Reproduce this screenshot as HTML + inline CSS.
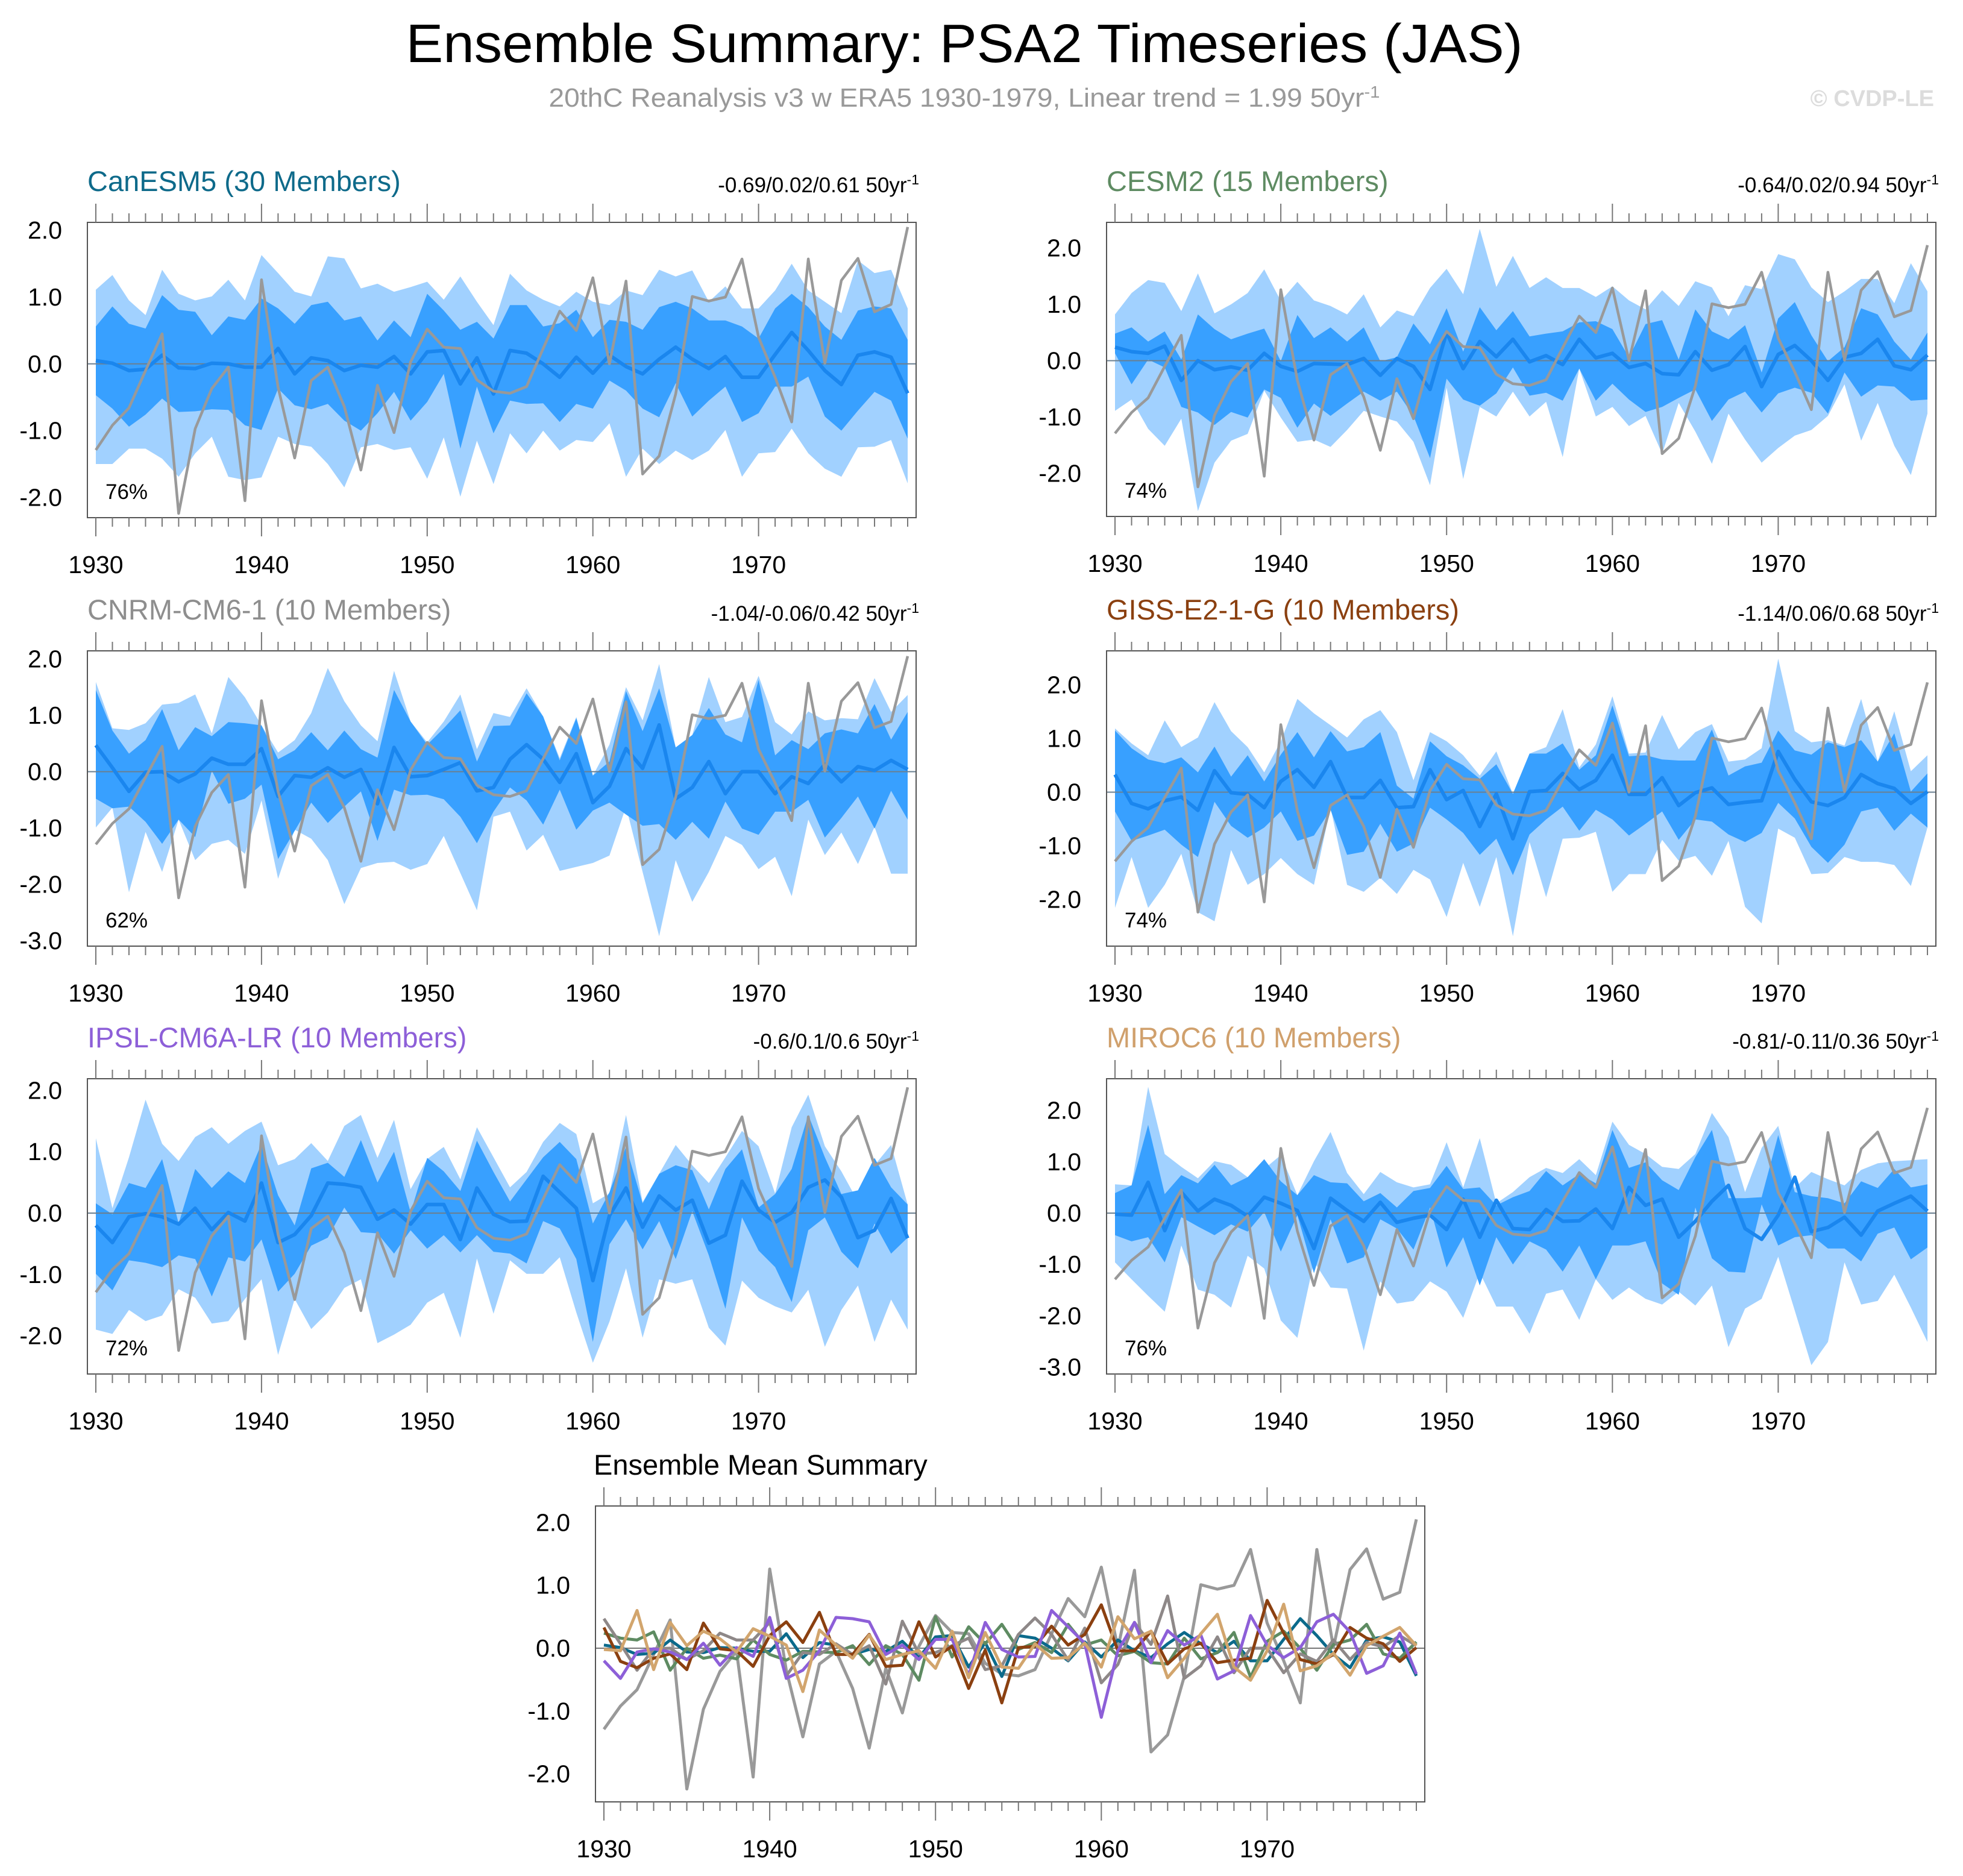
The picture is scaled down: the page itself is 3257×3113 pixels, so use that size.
<!DOCTYPE html>
<html><head><meta charset="utf-8"><style>
html,body{margin:0;padding:0;background:#fff}
svg{display:block;font-family:"Liberation Sans",Arial,sans-serif}
</style></head><body>
<svg id="fig" xmlns="http://www.w3.org/2000/svg" width="3257" height="3113" viewBox="0 0 3257 3113">
<text x="1600" y="103" font-size="90" text-anchor="middle" textLength="1853" lengthAdjust="spacingAndGlyphs" fill="#000">Ensemble Summary: PSA2 Timeseries (JAS)</text>
<text x="1600" y="177" font-size="44" text-anchor="middle" textLength="1379" lengthAdjust="spacingAndGlyphs" fill="#999">20thC Reanalysis v3 w ERA5 1930-1979, Linear trend = 1.99 50yr<tspan dy="-15" font-size="28">-1</tspan></text>
<text x="3209" y="176" font-size="38" font-weight="bold" text-anchor="end" fill="#dcdcdc">© CVDP-LE</text>
<g id="plots"></g>
</svg>
<script>
const years=[];for(let y=1930;y<=1979;y++)years.push(y);
const obs=[-1.29,-0.92,-0.66,-0.1,0.45,-2.24,-0.97,-0.37,-0.05,-2.05,1.26,-0.35,-1.41,-0.25,-0.05,-0.64,-1.59,-0.32,-1.03,0.03,0.52,0.25,0.23,-0.24,-0.41,-0.44,-0.34,0.23,0.79,0.5,1.29,0.0,1.24,-1.65,-1.38,-0.45,1.01,0.94,1.0,1.57,0.4,-0.2,-0.87,1.57,0.01,1.25,1.58,0.78,0.89,2.05];

const canOU=[1.11,1.33,0.95,0.73,1.41,1.05,0.95,1.01,1.26,0.95,1.63,1.36,1.08,1.01,1.61,1.58,1.13,1.2,1.08,1.15,1.23,0.96,1.31,0.93,0.58,1.35,1.1,0.96,0.86,1.08,0.93,0.88,1.1,1.03,1.41,1.31,1.4,0.93,1.16,0.83,0.83,1.1,1.5,1.1,0.93,0.76,1.55,1.36,1.41,0.83];
const canIU=[0.56,0.86,0.6,0.53,1.03,0.81,0.78,0.43,0.71,0.66,0.98,0.83,0.6,0.88,0.93,0.65,0.71,0.35,0.65,0.4,1.05,0.8,0.51,0.63,0.38,0.88,0.88,0.56,0.61,0.81,0.4,0.66,0.63,0.51,0.85,0.93,0.83,0.65,0.65,0.56,0.38,0.83,1.05,0.85,0.56,0.36,0.8,0.86,0.83,0.36];
const canM=[0.05,0.01,-0.1,-0.08,0.13,-0.06,-0.07,0.01,0,-0.05,-0.05,0.23,-0.15,0.09,0.05,-0.1,-0.02,-0.05,0.11,-0.15,0.18,0.2,-0.3,0.09,-0.45,0.2,0.16,0,-0.2,0.1,-0.14,0.13,-0.04,-0.15,0.07,0.25,0.07,-0.07,0.11,-0.2,-0.2,0.14,0.47,0.2,-0.1,-0.31,0.13,0.18,0.1,-0.44];
const canIL=[-0.47,-0.67,-0.94,-0.76,-0.52,-0.72,-0.71,-0.68,-0.69,-0.92,-0.99,-0.37,-0.62,-0.68,-0.6,-0.85,-1.0,-0.74,-0.42,-0.85,-0.57,-0.15,-1.27,-0.34,-1.04,-0.55,-0.6,-0.59,-0.87,-0.6,-0.67,-0.25,-0.4,-0.67,-0.8,-0.29,-0.79,-0.55,-0.34,-0.87,-0.74,-0.34,-0.34,-0.19,-0.79,-1.0,-0.7,-0.42,-0.55,-1.12];
const canOL=[-1.5,-1.5,-1.27,-1.27,-1.42,-1.69,-1.34,-1.09,-1.69,-1.74,-1.7,-1.09,-1.2,-1.24,-1.5,-1.85,-1.25,-1.2,-1.29,-1.25,-1.72,-1.1,-1.99,-1.15,-1.8,-1.04,-1.34,-1.0,-1.3,-1.14,-1.17,-0.89,-1.69,-1.27,-1.5,-1.3,-1.44,-1.3,-0.99,-1.69,-1.34,-1.32,-0.97,-1.34,-1.57,-1.69,-1.25,-1.24,-1.14,-1.79];

const cesOU=[0.82,1.2,1.43,1.38,0.88,1.55,0.84,1.0,1.2,1.62,1.06,1.4,1.07,0.97,0.82,1.18,0.59,0.89,0.79,1.29,1.63,1.18,2.34,1.31,1.86,1.29,1.48,1.29,1.29,1.13,1.32,1.07,0.91,1.25,0.97,1.41,1.3,0.79,1.34,1.27,1.89,1.8,1.3,1.04,1.23,1.45,1.45,1.02,1.73,1.23];
const cesIU=[0.48,0.59,0.34,0.52,0.02,0.82,0.56,0.38,0.48,0.57,-0.01,0.81,0.4,0.59,0.34,0.59,-0.01,0.06,0.66,0.29,0.93,0.16,0.95,0.54,0.88,0.43,0.48,0.52,0.68,0.7,0.56,0.06,0.65,0.72,0.02,0.91,0.52,0.38,0.63,-0.21,0.75,1.04,0.45,-0.01,0.24,0.93,0.82,0.34,0.02,0.5];
const cesM=[0.24,0.16,0.13,0.26,-0.35,0,-0.16,-0.11,-0.17,0.13,-0.1,-0.19,-0.05,-0.06,-0.07,0.04,-0.26,0.04,-0.1,-0.51,0.5,-0.14,0.34,0.07,0.38,-0.02,0.09,-0.07,0.38,0.05,0.13,-0.12,-0.05,-0.23,-0.25,0.16,-0.17,-0.07,0.25,-0.46,0.11,0.27,0.0,-0.35,0.06,0.13,0.38,-0.09,-0.16,0.1];
const cesIL=[0.13,-0.42,0.02,-0.12,-0.82,-0.92,-1.14,-0.91,-1.01,-0.51,-0.66,-1.19,-0.76,-0.98,-0.76,-0.55,-0.71,-0.55,-0.98,-1.73,-0.32,-0.69,-0.8,-0.58,-0.12,-0.62,-0.57,-0.71,-0.14,-0.71,-0.41,-0.69,-0.91,-0.82,-0.66,-0.51,-1.07,-0.69,-0.55,-0.92,-0.58,-0.48,-0.57,-0.94,-0.21,-0.64,-0.44,-0.46,-0.71,-0.69];
const cesOL=[-0.89,-0.69,-1.21,-1.51,-1.03,-2.67,-1.81,-1.42,-1.3,-0.53,-1.01,-1.44,-1.4,-1.53,-1.23,-0.89,-0.99,-1.08,-1.44,-2.21,-0.48,-2.1,-0.82,-0.99,-0.55,-0.99,-0.73,-1.71,-0.14,-0.99,-0.82,-1.16,-0.98,-1.65,-0.75,-1.26,-1.83,-0.94,-1.4,-1.81,-1.55,-1.33,-1.23,-0.98,-0.42,-1.42,-0.75,-1.51,-2.03,-0.94];

const cnrOU=[1.59,0.77,0.74,0.86,1.19,1.22,1.37,0.68,1.68,1.32,0.82,0.34,0.56,1.04,1.84,1.25,0.82,0.54,1.79,0.89,0.52,0.89,1.37,0.4,1.04,0.97,1.48,0.98,0.24,0.97,-0.07,0.48,1.5,0.91,1.91,0.43,0.65,1.68,0.88,0.97,1.7,0.88,0.66,1.07,0.91,0.95,0.93,1.66,1.06,1.36];
const cnrIU=[1.45,0.73,0.32,0.56,1.11,0.38,0.79,0.63,0.88,0.86,0.82,0.22,0.38,0.7,0.38,0.73,0.4,0.25,1.45,0.89,0.48,0.77,1.09,0.18,0.81,0.82,1.39,0.98,0.2,0.95,-0.07,0.18,1.43,0.72,1.48,0.43,0.65,1.13,0.66,0.52,1.63,0.29,0.56,0.4,0.68,0.75,0.68,1.2,0.57,1.06];
const cnrM=[0.47,0.07,-0.35,-0.01,0.0,-0.18,-0.04,0.24,0.13,0.13,0.41,-0.44,-0.07,-0.1,0.07,-0.1,0.04,-0.57,0.43,-0.09,-0.07,0.04,0.16,-0.34,-0.28,0.22,0.48,0.22,-0.19,0.32,-0.55,-0.26,0.41,0.06,0.83,-0.48,-0.28,0.18,-0.39,0.0,0.0,-0.39,-0.09,-0.21,0.13,-0.18,0.09,0.02,0.2,0.04];
const cnrIL=[-0.48,-0.65,-0.62,-0.89,-1.28,-0.85,-1.16,0.02,-0.57,-0.48,-0.23,-1.55,-1.05,-0.55,-0.91,-0.62,-0.35,-1.23,-0.32,-0.42,-0.41,-0.49,-0.8,-1.27,-0.71,-0.28,-0.51,-0.94,-0.32,-1.03,-0.69,-0.55,-0.76,-0.96,-0.93,-1.21,-0.89,-1.19,-0.53,-1.01,-1.12,-0.71,-0.71,-0.5,-1.17,-0.82,-0.44,-1.01,-0.34,-0.85];
const cnrOL=[-0.99,-0.64,-2.14,-1.07,-1.78,-0.85,-1.57,-1.28,-1.21,-1.46,-0.51,-1.9,-1.03,-1.19,-1.57,-2.35,-1.71,-1.62,-1.6,-1.74,-1.64,-1.14,-1.8,-2.46,-0.8,-0.71,-1.4,-1.12,-1.76,-1.69,-1.62,-1.49,-0.62,-1.78,-2.92,-1.57,-2.31,-1.78,-1.14,-1.3,-1.73,-1.51,-2.21,-0.85,-1.48,-1.08,-1.64,-0.98,-1.81,-1.81];

const gisOU=[1.19,0.91,0.69,1.34,0.84,1.02,1.68,1.14,0.84,0.37,0.95,1.74,1.47,1.25,1.02,1.36,1.53,1.12,0.22,1.12,0.95,0.69,0.31,0.76,-0.03,0.72,0.84,1.55,0.46,0.89,1.79,0.72,0.74,1.44,0.8,1.12,1.27,0.57,0.61,0.82,2.49,1.14,0.93,0.97,0.87,1.74,0.57,1.51,0.39,0.69];
const gisIU=[1.15,0.82,0.61,0.54,0.65,0.37,0.85,0.29,0.69,0.2,0.7,1.12,0.65,1.14,0.76,0.84,1.12,0.12,-0.12,0.95,0.67,0.5,0.25,0.52,-0.03,0.72,0.72,0.91,0.42,0.69,1.62,0.67,0.69,0.61,0.59,0.59,1.17,0.31,0.48,0.55,1.15,0.78,0.7,0.93,0.84,0.97,0.57,1.1,0.01,0.35];
const gisM=[0.33,-0.21,-0.31,-0.16,-0.09,-0.34,0.4,-0.01,-0.04,-0.29,0.2,0.42,0.09,0.57,-0.1,-0.1,0.22,-0.29,-0.27,0.42,-0.14,0.03,-0.64,-0.03,-0.87,0.01,0.03,0.35,0.05,0.22,0.69,-0.04,-0.04,0.27,-0.25,-0.01,0.08,-0.23,-0.19,-0.16,0.76,0.24,-0.18,-0.25,-0.1,0.33,0.16,0.07,-0.21,0.01];
const gisIL=[-0.36,-0.91,-0.81,-0.7,-0.98,-1.21,-0.18,-0.63,-0.85,-0.66,-0.36,-0.91,-0.81,-0.33,-1.17,-1.11,-0.59,-1.11,-0.96,-0.29,-0.51,-0.76,-1.17,-0.87,-1.55,-0.79,-0.51,-0.27,-0.72,-0.33,-0.51,-0.81,-0.59,-0.36,-0.89,-0.51,-0.55,-0.79,-0.93,-0.76,-0.2,-0.49,-1.02,-1.32,-0.98,-0.36,-0.29,-0.72,-0.4,-0.66];
const gisOL=[-2.16,-1.21,-2.16,-1.73,-1.15,-2.24,-2.41,-1.08,-1.73,-1.53,-1.23,-1.53,-1.73,-0.29,-1.73,-1.86,-1.6,-1.9,-1.45,-1.63,-2.33,-1.32,-2.14,-1.21,-2.69,-0.93,-1.96,-0.87,-0.85,-0.74,-1.86,-1.53,-1.53,-0.89,-1.28,-1.19,-1.56,-0.91,-2.14,-2.45,-0.68,-0.85,-1.53,-1.51,-1.21,-1.3,-1.3,-1.36,-1.75,-0.66];

const ipsOU=[1.22,0.08,0.91,1.85,1.13,0.85,1.24,1.4,1.13,1.34,1.49,0.78,0.88,1.14,0.85,1.42,1.6,0.9,1.52,0.39,0.88,1.08,0.55,1.4,0.91,0.42,0.67,1.16,1.47,1.29,0.16,0.32,1.6,0.18,0.64,1.11,0.78,0.49,0.91,1.34,1.09,0.32,1.4,1.93,1.09,0.68,0.19,0.78,1.11,0.14];
const ipsIU=[0.16,-0.02,0.49,0.41,0.88,-0.17,0.72,0.41,0.68,0.49,1.13,0.29,-0.2,0.73,0.82,0.59,1.19,0.5,1.0,0.01,0.9,0.68,0.36,1.18,0.67,0.19,0.55,0.91,1.16,0.88,-0.17,0.34,1.08,0.16,0.64,0.78,0.7,0.06,0.72,1.04,0.09,0.31,0.72,1.6,0.91,0.31,0.37,0.9,0.42,0.14];
const ipsM=[-0.2,-0.48,-0.06,-0.01,-0.06,-0.18,0.08,-0.27,0.01,-0.13,0.49,-0.48,-0.35,-0.04,0.49,0.47,0.42,-0.1,0.05,-0.18,0.14,0.14,-0.43,0.41,-0.02,-0.14,-0.13,0.6,0.34,0.08,-1.1,-0.04,0.41,-0.23,0.28,0.05,0.21,-0.49,-0.36,0.52,0.05,-0.15,0.01,0.42,0.54,0.26,-0.4,-0.28,0.24,-0.41];
const ipsIL=[-0.99,-1.26,-0.77,-0.81,-0.88,-0.69,-0.75,-1.36,-0.72,-0.79,-0.43,-1.28,-0.99,-0.53,-0.4,0.09,-0.31,-0.33,-0.66,-0.28,-0.58,-0.36,-0.64,-0.36,-0.63,-0.66,-0.82,-0.13,-0.25,-0.75,-2.1,-0.51,-0.1,-0.59,-0.13,-0.75,0.03,-0.69,-1.56,-0.07,-0.61,-0.88,-1.45,-0.28,-0.07,-0.63,-0.9,-0.17,-0.66,-0.4];
const ipsOL=[-1.9,-1.97,-1.58,-1.76,-1.67,-1.24,-1.38,-1.8,-1.76,-1.4,-1.08,-2.31,-1.4,-1.89,-1.62,-1.22,-1.08,-2.12,-1.98,-1.82,-1.46,-1.3,-2.03,-0.74,-1.64,-0.77,-0.99,-0.99,-0.72,-1.62,-2.44,-1.77,-0.9,-2.03,-1.08,-1.15,-1.08,-1.87,-2.16,-1.1,-1.38,-1.52,-1.62,-1.25,-2.18,-1.58,-1.18,-2.1,-1.41,-1.9];

const mirOU=[0.56,0.54,2.46,1.15,0.9,0.68,1.01,0.94,0.7,0.86,1.13,0.35,1.01,1.58,0.78,0.37,0.8,0.6,0.5,0.56,1.38,0.5,1.46,0.19,0.41,0.7,0.88,0.78,1.05,0.74,1.78,1.33,1.15,0.9,0.86,1.15,1.95,1.48,0.41,1.27,1.7,0.49,0.8,0.66,0.54,0.84,0.97,1.01,1.03,1.05];
const mirIU=[0.39,0.54,1.72,0.37,0.74,0.58,0.94,0.54,0.7,1.05,0.62,0.35,0.74,0.6,0.58,0.23,0.39,0.11,0.43,0.49,0.92,0.47,0.5,0.15,0.31,0.43,0.82,0.54,0.76,0.58,1.62,0.88,0.99,0.64,0.45,1.09,1.62,0.29,0.29,0.31,1.52,0.41,0.33,0.29,0.19,0.62,0.49,0.86,0.5,0.56];
const mirM=[-0.02,-0.04,0.6,-0.34,0.41,0.04,0.27,0.15,-0.06,0.31,0.19,0.05,-0.69,0.29,0.05,-0.16,0.21,-0.18,-0.1,-0.04,-0.32,0.27,-0.47,0.25,-0.3,-0.32,0.07,-0.16,-0.15,0.08,-0.3,0.5,0.15,0.27,-0.47,-0.16,0.23,0.54,-0.3,-0.51,-0.04,0.7,-0.36,-0.28,-0.08,-0.43,0.04,0.19,0.33,0.04];
const mirIL=[-0.43,-0.55,-0.47,-0.96,-0.08,-0.26,-0.43,-0.22,-0.36,0.02,-0.75,-0.04,-1.17,-0.12,-0.98,-0.86,-0.12,-0.3,-0.71,0.11,-1.06,-0.47,-1.41,-0.47,-1.0,-0.55,-0.71,-1.14,-0.63,-1.29,-0.63,-0.63,-0.55,-1.37,-1.59,0.11,-0.88,-1.14,-1.16,0.17,-0.63,-0.47,-0.43,-0.69,-0.69,-0.94,-0.4,-0.28,-0.9,-0.67];
const mirOL=[-0.96,-1.29,-1.61,-1.92,-0.63,-1.49,-1.59,-1.84,-0.83,-1.08,-2.09,-2.43,-0.94,-1.45,-1.47,-2.68,-1.33,-1.76,-1.71,-1.33,-1.53,-2.04,-1.16,-1.82,-1.82,-2.35,-1.57,-1.49,-2.08,-1.29,-1.69,-1.45,-1.67,-1.78,-1.53,-1.8,-1.41,-2.61,-1.86,-1.67,-0.85,-1.9,-2.96,-2.51,-0.96,-1.78,-1.71,-1.2,-1.84,-2.51];

const modelNames=["CanESM5 (30 Members)","CESM2 (15 Members)","CNRM-CM6-1 (10 Members)","GISS-E2-1-G (10 Members)","IPSL-CM6A-LR (10 Members)","MIROC6 (10 Members)"];
const trendLabels=["-0.69/0.02/0.61 50yr","-0.64/0.02/0.94 50yr","-1.04/-0.06/0.42 50yr","-1.14/0.06/0.68 50yr","-0.6/0.1/0.6 50yr","-0.81/-0.11/0.36 50yr"];
const pctLabels=["76%","74%","62%","74%","72%","76%"];
const xTicks=[1930,1940,1950,1960,1970];

const NS="http://www.w3.org/2000/svg";
const root=document.getElementById('plots');
function mk(tag,attrs,parent){const e=document.createElementNS(NS,tag);for(const k in attrs)e.setAttribute(k,attrs[k]);(parent||root).appendChild(e);return e;}

const models=[
 {d:[canOU,canIU,canM,canIL,canOL],col:"#0E6A8A",lc:"#0B6A8B",box:[145,369,1520,859],zero:603.8,unit:110.8,tk:[-2,2]},
 {d:[cesOU,cesIU,cesM,cesIL,cesOL],col:"#5E8B62",lc:"#5E8B62",box:[1836,369,3212,857],zero:598.5,unit:93.5,tk:[-2,2]},
 {d:[cnrOU,cnrIU,cnrM,cnrIL,cnrOL],col:"#8E8E8E",lc:"#8E8888",box:[145,1080,1520,1570],zero:1280.5,unit:93.5,tk:[-3,2]},
 {d:[gisOU,gisIU,gisM,gisIL,gisOL],col:"#8B4010",lc:"#8B4010",box:[1836,1080,3212,1570],zero:1314.5,unit:88.9,tk:[-2,2]},
 {d:[ipsOU,ipsIU,ipsM,ipsIL,ipsOL],col:"#8D5FD8",lc:"#8D5FD8",box:[145,1790,1520,2280],zero:2013,unit:101.8,tk:[-2,2]},
 {d:[mirOU,mirIU,mirM,mirIL,mirOL],col:"#D0A06C",lc:"#D2A56D",box:[1836,1790,3212,2280],zero:2013,unit:85.2,tk:[-3,2]}
];

function axes(g,p,label){
 const [x0,y0,x1,y1]=p.box;
 const X=yr=>x0+14+(yr-1930)*(x1-x0-28)/49;
 const Y=v=>p.zero-v*p.unit;
 const clip=mk('clipPath',{id:'c'+label},g);mk('rect',{x:x0,y:y0,width:x1-x0,height:y1-y0},clip);
 return {X,Y,x0,y0,x1,y1};
}
function frame(g,p,A,name){
 const {X,Y,x0,y0,x1,y1}=A;
 const fr=mk('rect',{x:x0,y:y0,width:x1-x0,height:y1-y0,fill:'none',stroke:'#555','stroke-width':2},g);
 
 
 const tg=mk('g',{stroke:'#777','stroke-width':2},g);
 
 
 for(let yr=1930;yr<=1979;yr++){
  const L=yr%10===0?31:15;
  mk('line',{x1:X(yr),x2:X(yr),y1:y1,y2:y1+L},tg);
  mk('line',{x1:X(yr),x2:X(yr),y1:y0,y2:y0-L},tg);
 }
 const lo=Math.ceil((p.zero-y1)/p.unit*-5)/5, hi=Math.floor((p.zero-y0)/p.unit*5)/5;
 for(let k=Math.round(lo*5);k<=Math.round(hi*5);k++){
  const v=k/5;const L=k%5===0?31:15;const yy=Y(v);
  if(yy<y0||yy>y1)continue;
  mk('line',{x1:x0,x2:x0-L,y1:yy,y2:yy},tg);
  mk('line',{x1:x1,x2:x1+L,y1:yy,y2:yy},tg);
 }
 for(let v=p.tk[0];v<=p.tk[1];v++){
  const t=mk('text',{x:x0-42,y:Y(v)+14,'font-size':41,'text-anchor':'end',fill:'#000'},g);
  t.textContent=v.toFixed(1);
  
  
 }
 xTicks.forEach(yr=>{
  const t=mk('text',{x:X(yr),y:y1+92,'font-size':41,'text-anchor':'middle',fill:'#000'},g);
  t.textContent=yr;
  
  
 });
}
function linePath(A,arr){return arr.map((v,i)=>(i?'L':'M')+A.X(years[i]).toFixed(1)+' '+A.Y(v).toFixed(1)).join(' ');}
function bandPath(A,up,dn){let s=up.map((v,i)=>(i?'L':'M')+A.X(years[i]).toFixed(1)+' '+A.Y(v).toFixed(1)).join(' ');for(let i=dn.length-1;i>=0;i--)s+=' L'+A.X(years[i]).toFixed(1)+' '+A.Y(dn[i]).toFixed(1);return s+'Z';}

models.forEach((p,mi)=>{
 const g=mk('g',{});
 
 
 const A=axes(g,p,mi);
 const pg=mk('g',{'clip-path':'url(#c'+mi+')'},g);
 const b1=mk('path',{d:bandPath(A,p.d[0],p.d[4]),fill:'#A1D1FF'},pg);
 
 
 const b2=mk('path',{d:bandPath(A,p.d[1],p.d[3]),fill:'#38A0FF'},pg);
 
 
 const z=mk('line',{x1:A.x0,x2:A.x1,y1:A.Y(0),y2:A.Y(0),stroke:'#6a7f90','stroke-width':2},pg);
 
 
 const ml=mk('path',{d:linePath(A,p.d[2]),fill:'none',stroke:'#1A86EE','stroke-width':6,'stroke-linejoin':'round'},pg);
 
 
 const ol=mk('path',{d:linePath(A,obs),fill:'none',stroke:'#999','stroke-width':4.5,'stroke-linejoin':'round'},pg);
 
 
 frame(g,p,A,'panel'+mi);
 const t=mk('text',{x:A.x0,y:A.y0-52,'font-size':47,fill:p.col},g);
 t.textContent=modelNames[mi];
 
 
 const tr=mk('text',{x:A.x1+5,y:A.y0-50,'font-size':35,'text-anchor':'end',fill:'#000'},g);
 tr.textContent=trendLabels[mi];
 const sup=mk('tspan',{dy:-13,'font-size':23},tr);sup.textContent='-1';
 
 
 const pc=mk('text',{x:A.x0+30,y:A.y1-31,'font-size':35,fill:'#000'},g);
 pc.textContent=pctLabels[mi];
 
 
});

// summary panel
(function(){
 const p={box:[988,2499,2364,2990],zero:2735,unit:104.3,tk:[-2,2]};
 const g=mk('g',{});
 
 
 const A=axes(g,p,'s');
 const pg=mk('g',{'clip-path':'url(#cs)'},g);
 const z=mk('line',{x1:A.x0,x2:A.x1,y1:A.Y(0),y2:A.Y(0),stroke:'#777','stroke-width':2},pg);
 
 
 const ol=mk('path',{d:linePath(A,obs),fill:'none',stroke:'#999','stroke-width':5,'stroke-linejoin':'round'},pg);
 
 
 models.forEach((m,mi)=>{
  const l=mk('path',{d:linePath(A,m.d[2]),fill:'none',stroke:m.lc,'stroke-width':5,'stroke-linejoin':'round'},pg);
  
  
 });
 frame(g,p,A,'summary');
 const t=mk('text',{x:985,y:2447,'font-size':47,fill:'#000'},g);
 t.textContent='Ensemble Mean Summary';
 
 
})();
</script>
</body></html>
